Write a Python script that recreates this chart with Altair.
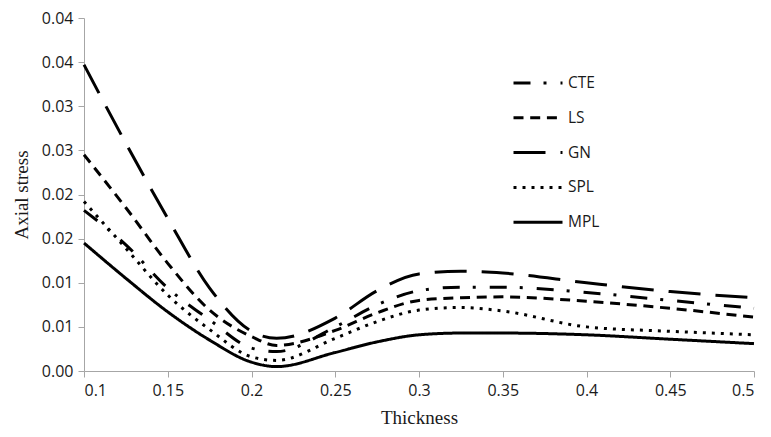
import altair as alt
import pandas as pd

# Thickness values (x)
thickness = [0.1, 0.125, 0.15, 0.175, 0.2, 0.215, 0.25, 0.275, 0.3, 0.325, 0.35, 0.4, 0.45, 0.5]

# Axial stress series
cte = [0.0182, 0.0143, 0.0094, 0.0058, 0.0026, 0.0022, 0.0050, 0.0075, 0.0091, 0.0095, 0.0095, 0.0089, 0.0080, 0.0071]
ls = [0.0245, 0.0185, 0.0122, 0.0069, 0.0039, 0.0029, 0.0046, 0.0066, 0.0080, 0.0083, 0.0084, 0.0079, 0.0071, 0.0061]
gn = [0.0347, 0.0258, 0.0173, 0.0094, 0.0045, 0.0037, 0.0060, 0.0091, 0.0110, 0.0113, 0.0111, 0.0100, 0.0090, 0.0083]
spl = [0.0192, 0.0139, 0.0086, 0.0047, 0.0016, 0.0012, 0.0037, 0.0056, 0.0069, 0.0072, 0.0068, 0.0050, 0.0045, 0.0041]
mpl = [0.0145, 0.0105, 0.0067, 0.0035, 0.0010, 0.0005, 0.0021, 0.0033, 0.0041, 0.0043, 0.0043, 0.0041, 0.0036, 0.0031]

series_names = ["CTE", "LS", "GN", "SPL", "MPL"]
series_values = [cte, ls, gn, spl, mpl]
dash_patterns = [[17, 13, 3, 14], [10, 6.7], [32, 15], [3, 6], [1, 0]]

x_ticks = [0.1, 0.15, 0.2, 0.25, 0.3, 0.35, 0.4, 0.45, 0.5]
y_ticks = [0.0, 0.005, 0.01, 0.015, 0.02, 0.025, 0.03, 0.035, 0.04]
y_tick_labels = ["0.00", "0.01", "0.01", "0.02", "0.02", "0.03", "0.03", "0.04", "0.04"]

rows = []
for name, vals in zip(series_names, series_values):
    for i, (x, y) in enumerate(zip(thickness, vals)):
        rows.append({"series": name, "Thickness": x, "Axial stress": y, "order": i})
df = pd.DataFrame(rows)

label_array = "[" + ",".join("'" + s + "'" for s in y_tick_labels) + "]"

chart = alt.Chart(df).mark_line(
    interpolate="monotone", strokeWidth=3, color="black"
).encode(
    x=alt.X("Thickness:Q",
            scale=alt.Scale(domain=[0.1, 0.5], nice=False, zero=False),
            axis=alt.Axis(values=x_ticks, format="~g", title="Thickness",
                          titlePadding=10)),
    y=alt.Y("Axial stress:Q",
            scale=alt.Scale(domain=[0, 0.04], nice=False),
            axis=alt.Axis(values=y_ticks, title="Axial stress",
                          labelExpr=label_array + "[round(datum.value*200)]",
                          titlePadding=10)),
    strokeDash=alt.StrokeDash("series:N",
                              scale=alt.Scale(domain=series_names, range=dash_patterns),
                              sort=series_names,
                              legend=alt.Legend(title=None, orient="none",
                                                legendX=428, legendY=57,
                                                symbolType="stroke", symbolSize=2401,
                                                symbolStrokeWidth=3, symbolStrokeColor="black",
                                                clipHeight=16, rowPadding=17.8,
                                                labelFont="Open Sans", labelFontSize=15.5,
                                                labelColor="#1a1a1a", labelOffset=4,
                                                padding=0)),
    detail="series:N",
    order="order:Q",
).properties(
    width=670, height=353,
    padding={"left": 76, "top": 10, "right": 8, "bottom": 58},
    autosize=alt.AutoSizeParams(type="none"),
).configure_view(
    stroke=None
).configure_axis(
    grid=False,
    domainColor="#a6a6a6",
    tickColor="#a6a6a6",
    tickSize=6,
    labelFont="Open Sans",
    labelFontSize=16,
    labelColor="#1a1a1a",
    labelPadding=5,
    titleFont="Liberation Serif",
    titleFontSize=19,
    titleFontWeight="normal",
    titleColor="#1a1a1a",
)

chart.save("out.html", embed_options={"renderer": "svg", "actions": False})
